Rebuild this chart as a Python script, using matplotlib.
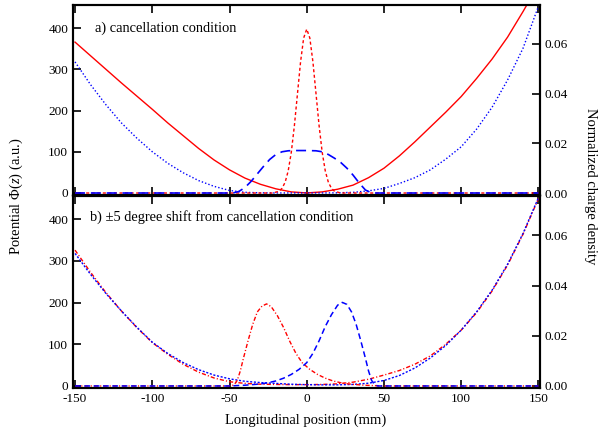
import matplotlib
matplotlib.use('Agg')
import matplotlib.pyplot as plt

plt.rcParams['font.family'] = ['Liberation Serif', 'DejaVu Serif']
plt.rcParams['mathtext.fontset'] = 'custom'
plt.rcParams['mathtext.it'] = 'Liberation Serif:italic'
plt.rcParams['mathtext.rm'] = 'Liberation Serif'
plt.rcParams['axes.unicode_minus'] = False

# potentials, read on a 10 mm grid (left axis, a.u.)
z_pot = list(range(-150, 151, 10))
pot_a_rf = [366, 333, 300, 267, 235, 203, 170, 139, 108, 80, 56, 36, 21, 10, 2.5, 0,
            2.5, 9, 19, 37, 60, 90, 124, 160, 196, 234, 278, 325, 378, 440, 505]
pot_a_dh = [318, 263, 214, 170, 133, 100, 72, 49, 30, 16, 6, 1.5, 0.3, 0, 0, 0,
            0, 0.3, 1.5, 5, 11, 23, 37, 56, 82, 112, 155, 208, 274, 351, 453]
pot_b_rf = [326, 273, 224, 180, 140, 104, 76, 52, 33, 19, 10, 6, 4, 3.5, 3, 3,
            3.5, 5, 9, 16, 26, 37, 52, 72, 100, 134, 176, 228, 290, 364, 450]
pot_b_dh = [318, 268, 222, 180, 141, 105, 78, 56, 39, 26, 17, 11, 8, 6, 4, 3,
            2.5, 2.5, 3.5, 6.5, 13, 25, 43, 67, 97, 134, 178, 230, 292, 366, 452]

# charge densities (right axis)
z_rho_a_rf = [-150, -22, -18, -16, -14, -12, -10, -8, -6, -4, -2, 0,
              2, 4, 6, 8, 10, 12, 14, 16, 18, 22, 150]
rho_a_rf = [0, 0, 0.0007, 0.0019, 0.0043, 0.0089, 0.0164, 0.0271, 0.0400, 0.0528, 0.0624, 0.0660,
            0.0624, 0.0528, 0.0400, 0.0271, 0.0164, 0.0089, 0.0043, 0.0019, 0.0007, 0, 0]

z_rho_a_dh = [-150, -48, -44, -40, -36, -32, -28, -24, -20, -16, -12, -8, 0,
              6, 10, 14, 18, 22, 26, 30, 34, 38, 42, 150]
rho_a_dh = [0, 0, 0.0006, 0.0022, 0.0047, 0.0077, 0.0107, 0.0135, 0.0155, 0.0166, 0.0170, 0.0171, 0.0171,
            0.0170, 0.0166, 0.0155, 0.0140, 0.0123, 0.0100, 0.0072, 0.0040, 0.0012, 0, 0]

z_rho_b_rf = [-150, -49, -47, -45, -43, -41, -38, -35, -32, -29, -26, -23, -19, -15, -11,
              -7, -3, 2, 7, 12, 17, 22, 27, 37, 50, 150]
rho_b_rf = [0, 0, 0.0005, 0.0022, 0.0060, 0.0110, 0.0180, 0.0245, 0.0295, 0.0318, 0.0327, 0.0316,
            0.0280, 0.0233, 0.0178, 0.0130, 0.0093, 0.0066, 0.0046, 0.0031, 0.0020, 0.0013,
            0.0008, 0.0003, 0, 0]

z_rho_b_dh = [-150, -50, -40, -30, -25, -20, -15, -10, -5, 0, 4, 8, 12, 16, 20, 23,
              26, 29, 32, 35, 38, 40, 42, 44, 46, 150]
rho_b_dh = [0, 0, 0.0003, 0.0008, 0.0013, 0.0020, 0.0031, 0.0046, 0.0066, 0.0093, 0.0130, 0.0180,
            0.0237, 0.0284, 0.0322, 0.0333, 0.0325, 0.0295, 0.0245, 0.0180, 0.0110, 0.0060,
            0.0022, 0.0005, 0, 0]

RED = '#ff0000'
BLUE = '#0000ff'

fig = plt.figure(figsize=(6, 4.28), dpi=100)
ax1 = fig.add_axes([0.1217, 0.5444, 0.7783, 0.4439])
ax2 = fig.add_axes([0.1217, 0.0935, 0.7783, 0.4486])
ax1r = ax1.twinx()
ax2r = ax2.twinx()

# panel a
ax1.plot(z_pot, pot_a_rf, color=RED, lw=1.0)
ax1.plot(z_pot, pot_a_dh, color=BLUE, lw=1.0, dashes=(1, 1.5))
ax1r.plot(z_rho_a_rf, rho_a_rf, color=RED, lw=1.0, dashes=(2.2, 1.8))
ax1r.plot(z_rho_a_dh, rho_a_dh, color=BLUE, lw=1.2, dashes=(6, 3.5))

# panel b
ax2.plot(z_pot, pot_b_rf, color=RED, lw=1.0, dashes=(3, 1.5, 0.8, 1.5))
ax2.plot(z_pot, pot_b_dh, color=BLUE, lw=1.0, dashes=(1.5, 1.2))
ax2r.plot(z_rho_b_rf, rho_b_rf, color=RED, lw=1.0, dashes=(3, 1.5, 0.8, 1.5))
ax2r.plot(z_rho_b_dh, rho_b_dh, color=BLUE, lw=1.1, dashes=(3.8, 2.3))

for ax in (ax1, ax2):
    ax.set_xlim(-151.3, 151.0)
    ax.set_ylim(-5, 456)
    ax.set_xticks([-150, -100, -50, 0, 50, 100, 150])
    ax.set_yticks([0, 100, 200, 300, 400])
    ax.tick_params(axis='both', direction='in', length=6, width=1.2, labelsize=9.5,
                   top=True, bottom=True, right=False)
for ax in (ax1r, ax2r):
    ax.set_ylim(-0.0008, 0.0757)
    ax.set_yticks([0.0, 0.02, 0.04, 0.06])
    ax.set_yticklabels(['0.00', '0.02', '0.04', '0.06'])
    ax.tick_params(axis='y', direction='in', length=6, width=1.2, labelsize=9.5)
for ax in (ax1, ax2, ax1r, ax2r):
    for s in ax.spines.values():
        s.set_linewidth(1.5)

ax1.tick_params(axis='x', labelbottom=False)
ax2.set_xticklabels(['-150', '-100', '-50', '0', '50', '100', '150'])

ax1.text(-137, 400, 'a) cancellation condition', fontsize=10.4, va='center')
ax2.text(-140.6, 405, 'b) \u00b15 degree shift from cancellation condition', fontsize=10.4, va='center')

fig.text(0.027, 0.542, 'Potential \u03a6($z$) (a.u.)', rotation=90, va='center', ha='center', fontsize=10.5)
fig.text(0.985, 0.565, 'Normalized charge density', rotation=-90, va='center', ha='center', fontsize=10.5)
fig.text(0.51, 0.019, 'Longitudinal position (mm)', va='center', ha='center', fontsize=10.5)

fig.savefig('out.png', dpi=100)
